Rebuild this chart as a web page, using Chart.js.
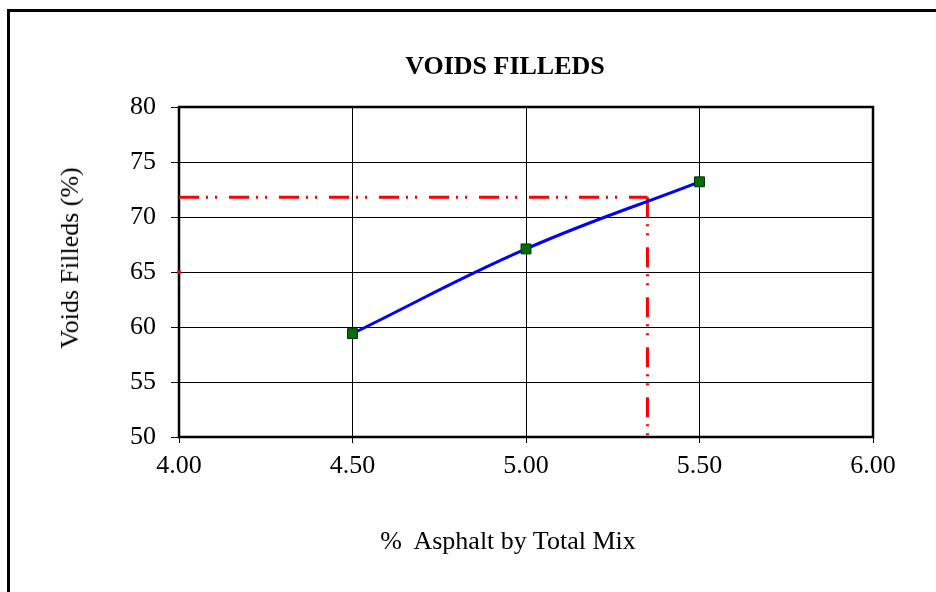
<!DOCTYPE html>
<html>
<head>
<meta charset="utf-8">
<script src="https://cdn.jsdelivr.net/npm/chart.js@4/dist/chart.umd.min.js"></script>
<style>
  html, body { margin: 0; padding: 0; background: #fff; overflow: hidden; }
  #wrap { position: relative; width: 936px; height: 592px; }
  #frame {
    position: absolute; left: 7px; top: 9px; width: 1000px; height: 700px;
    border: 3px solid #000; box-sizing: border-box;
  }
  canvas { position: absolute; left: 0; top: 0; }
  .lbl { position: absolute; font-family: "Liberation Serif", "Times New Roman", serif; font-size: 26px; color: #000; white-space: nowrap; line-height: 30px; }
  #title { left: 505px; top: 51px; transform: translateX(-50%); font-weight: bold; }
  #xTitle { left: 508px; top: 526px; transform: translateX(-50%); }
  #yTitle { left: 70px; top: 258px; transform: translate(-50%, -50%) rotate(-90deg); }
</style>
</head>
<body>
<div id="wrap">
  <div id="frame"></div>
  <canvas id="vfaChart" width="936" height="592"></canvas>
  <div class="lbl" id="title">VOIDS FILLEDS</div>
  <div class="lbl" id="xTitle">%&nbsp; Asphalt by Total Mix</div>
  <div class="lbl" id="yTitle">Voids Filleds (%)</div>
</div>
<script>
// asphalt content (%) and measured voids filled (%)
const asphaltContent = [4.5, 5.0, 5.5];
const voidsFilled = [59.4, 67.1, 73.2];

// design value
const designAsphalt = 5.35;
const designVfa = 71.8;

// axis ranges / ticks
const xTicks = [4.0, 4.5, 5.0, 5.5, 6.0];
const yTicks = [50, 55, 60, 65, 70, 75, 80];

const serif = '"Liberation Serif", "Times New Roman", serif';

// thick box around the plot area
const plotBorder = {
  id: 'plotBorder',
  beforeDatasetsDraw(chart) {
    const { ctx, chartArea: a } = chart;
    ctx.save();
    ctx.strokeStyle = '#000';
    ctx.lineWidth = 2.5;
    ctx.strokeRect(a.left, a.top, a.right - a.left, a.bottom - a.top);
    ctx.restore();
  }
};

const curvePoints = asphaltContent.map((x, i) => ({ x: x, y: voidsFilled[i] }));
const dashDot = [20, 7, 2, 7, 2, 12];

new Chart(document.getElementById('vfaChart'), {
  type: 'scatter',
  data: {
    datasets: [
      {
        data: curvePoints,
        showLine: true,
        borderColor: '#0000ff',
        borderWidth: 3,
        tension: 0.4,
        pointStyle: 'rect',
        pointRadius: 7,
        pointBackgroundColor: '#007000',
        pointBorderColor: '#003000',
        pointBorderWidth: 1
      },
      {
        data: [{ x: xTicks[0], y: designVfa }, { x: designAsphalt, y: designVfa }],
        showLine: true,
        borderColor: '#ff0000',
        borderWidth: 3,
        borderDash: dashDot,
        pointRadius: 0,
        clip: false
      },
      {
        data: [{ x: designAsphalt, y: designVfa }, { x: designAsphalt, y: yTicks[0] }],
        showLine: true,
        borderColor: '#ff0000',
        borderWidth: 3,
        borderDash: dashDot,
        pointRadius: 0,
        clip: false
      },
      {
        data: [{ x: xTicks[0], y: 65 }],
        pointStyle: 'rect',
        pointRadius: 2.5,
        pointBackgroundColor: '#ff0000',
        pointBorderColor: '#ff0000',
        pointBorderWidth: 0,
        clip: false
      }
    ]
  },
  options: {
    responsive: false,
    animation: false,
    layout: { padding: { top: 107, right: 63, left: 0, bottom: 0 } },
    plugins: { legend: { display: false }, tooltip: { enabled: false } },
    scales: {
      x: {
        type: 'linear',
        min: xTicks[0],
        max: xTicks[xTicks.length - 1],
        afterFit(scale) { scale.height = 155; },
        afterBuildTicks(scale) { scale.ticks = xTicks.map(v => ({ value: v })); },
        ticks: {
          color: '#000',
          font: { family: serif, size: 26 },
          padding: 8,
          maxRotation: 0,
          callback: v => Number(v).toFixed(2)
        },
        grid: { color: '#000', lineWidth: 1, tickLength: 6 },
        border: { display: false }
      },
      y: {
        min: yTicks[0],
        max: yTicks[yTicks.length - 1],
        afterFit(scale) { scale.width = 179; },
        afterBuildTicks(scale) { scale.ticks = yTicks.map(v => ({ value: v })); },
        ticks: {
          color: '#000',
          font: { family: serif, size: 26 },
          padding: 15
        },
        grid: { color: '#000', lineWidth: 1, tickLength: 8 },
        border: { display: false }
      }
    }
  },
  plugins: [plotBorder]
});
</script>
</body>
</html>
